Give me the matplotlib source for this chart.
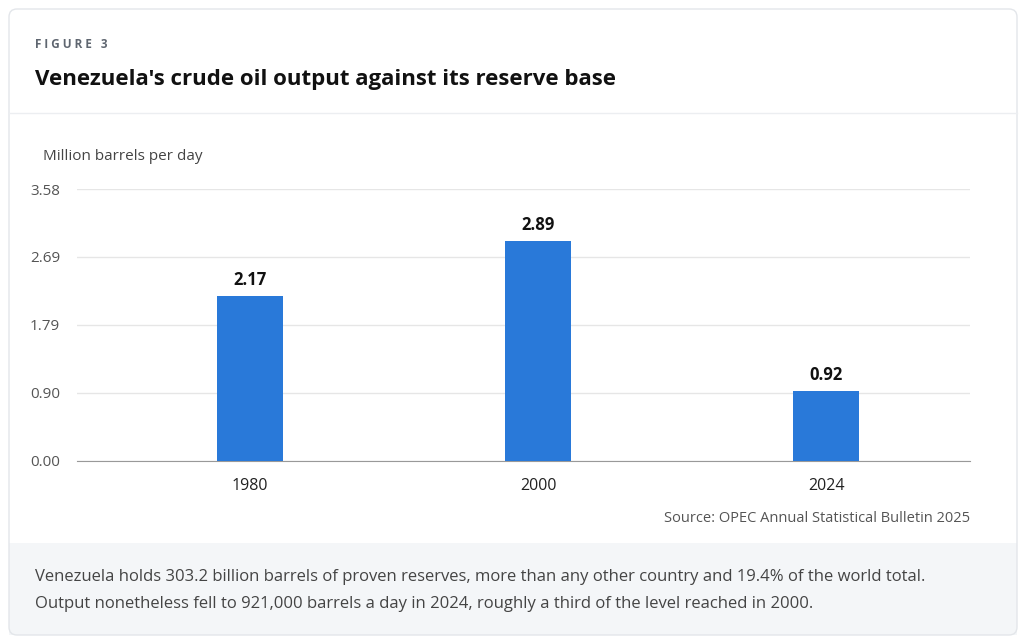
import matplotlib.pyplot as plt
from matplotlib.patches import FancyBboxPatch, Rectangle

years = ["1980", "2000", "2024"]
output = [2.17, 2.89, 0.92]
yticks = [0.00, 0.90, 1.79, 2.69, 3.58]

W, H = 1024, 643
fig = plt.figure(figsize=(W / 100, H / 100), dpi=100)
plt.rcParams['font.family'] = ['Open Sans', 'DejaVu Sans']


def fx(px):
    return px / W


def fy(py):
    return 1 - py / H


# card, footer band, header separator
bg = fig.add_axes([0, 0, 1, 1])
bg.set_xlim(0, W)
bg.set_ylim(H, 0)
bg.axis('off')
bg.add_patch(Rectangle((9, 543), 1008, 92, facecolor='#f4f6f8', edgecolor='none'))
bg.add_patch(FancyBboxPatch((9, 9), 1008, 626, boxstyle='round,pad=0,rounding_size=8',
                            facecolor='none', edgecolor='#e3e6ea', lw=1))
bg.plot([9, 1017], [113, 113], color='#eceef1', lw=1)

fig.text(fx(35), fy(45), "F I G U R E   3", fontsize=8.5, fontweight='bold',
         color='#5f6670', va='center')
fig.text(fx(35), fy(80), "Venezuela's crude oil output against its reserve base",
         fontsize=16, fontweight='bold', color='#111111', va='center')
fig.text(fx(43), fy(157), "Million barrels per day", fontsize=11, color='#444444', va='center')
fig.text(fx(970), fy(519), "Source: OPEC Annual Statistical Bulletin 2025", fontsize=10.5,
         color='#555555', ha='right', va='center')
fig.text(fx(35), fy(577), "Venezuela holds 303.2 billion barrels of proven reserves, more than any "
         "other country and 19.4% of the world total.", fontsize=12, color='#444444', va='center')
fig.text(fx(35), fy(604), "Output nonetheless fell to 921,000 barrels a day in 2024, roughly a "
         "third of the level reached in 2000.", fontsize=12, color='#444444', va='center')

ax = fig.add_axes([fx(77), fy(461), fx(970 - 77), (461 - 189) / H])
x = range(len(years))
ax.bar(x, output, width=0.226, color='#2979d9', zorder=3)
for i, v in zip(x, output):
    ax.text(i, v + 0.1, f"{v:.2f}", ha='center', va='bottom', fontsize=12,
            fontweight='bold', color='#111111')
ax.set_xlim(-0.6007, 2.5)
ax.set_ylim(0, 3.58)
ax.set_yticks(yticks)
ax.set_yticklabels([f"{t:.2f}" for t in yticks])
ax.set_xticks(list(x))
ax.set_xticklabels(years)
ax.grid(axis='y', color='#e6e6e6', lw=1, zorder=0)
for s in ['top', 'right', 'left']:
    ax.spines[s].set_visible(False)
ax.spines['bottom'].set_color('#999999')
ax.tick_params(axis='y', length=0, labelsize=11, labelcolor='#555555', pad=12)
ax.tick_params(axis='x', length=0, labelsize=11.5, labelcolor='#222222', pad=12)

fig.savefig('out.png', dpi=100)
